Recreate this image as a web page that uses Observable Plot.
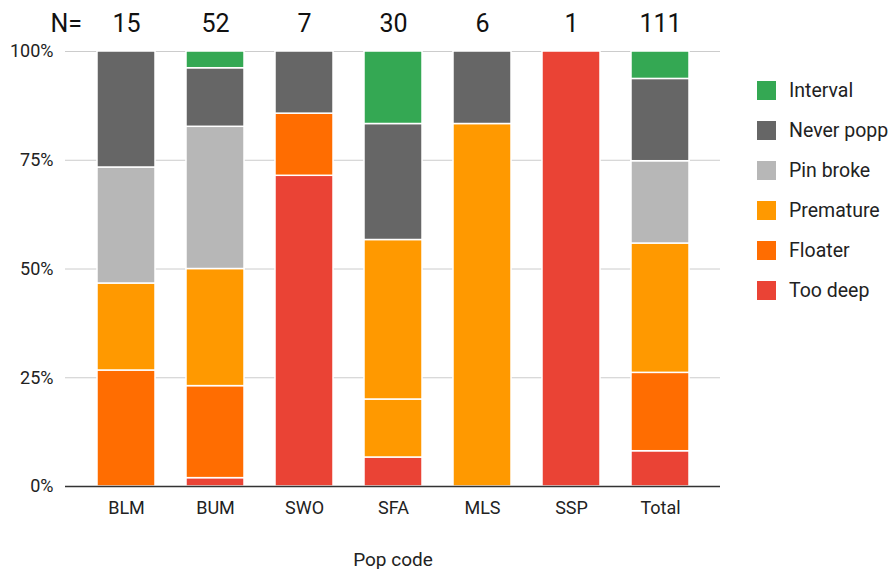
<!DOCTYPE html>
<html>
<head>
<meta charset="utf-8">
<script src="https://cdn.jsdelivr.net/npm/d3@7"></script>
<script src="https://cdn.jsdelivr.net/npm/@observablehq/plot@0.6"></script>
<style>
  html, body { margin: 0; padding: 0; background: #fff; overflow: hidden; }
  #chart { position: relative; width: 888px; height: 569px; font-family: Roboto, "Noto Sans", sans-serif; }
  #legend { position: absolute; left: 757px; top: 81px; }
  .item { position: absolute; left: 0; height: 19px; display: flex; align-items: center; white-space: nowrap; }
  .sw { width: 19px; height: 19px; margin-right: 13px; flex: none; }
  .lab { font-size: 19.5px; color: #222; line-height: 19px; }
</style>
</head>
<body>
<div id="chart"><div id="legend"></div></div>
<script>
// Pop-up outcome counts per pop code
const categories = ["BLM", "BUM", "SWO", "SFA", "MLS", "SSP", "Total"];
const tooDeep        = [0, 1, 5, 2, 0, 1, 9];
const floater        = [4, 11, 1, 0, 0, 0, 20];
const prematureFirst = [0, 0, 0, 4, 0, 0, 0];   // SFA premature block drawn below the main one
const premature      = [3, 14, 0, 11, 5, 0, 33];
const pinBroke       = [4, 17, 0, 0, 0, 0, 21];
const neverPopped    = [4, 7, 1, 8, 1, 0, 21];
const interval       = [0, 2, 0, 5, 0, 0, 7];

// Stacking order, bottom to top
const stackSeries = [
  ["Too deep", tooDeep],
  ["Floater", floater],
  ["Premature", prematureFirst],
  ["Premature", premature],
  ["Pin broke", pinBroke],
  ["Never popped", neverPopped],
  ["Interval", interval]
];

// Legend order, top to bottom
const legendNames  = ["Interval", "Never popped", "Pin broke", "Premature", "Floater", "Too deep"];
const legendColors = ["#34a853", "#666666", "#b7b7b7", "#ff9900", "#ff6d01", "#ea4335"];

const yTicks = [0, 0.25, 0.5, 0.75, 1];

const rows = [];
stackSeries.forEach(([name, values]) => {
  values.forEach((v, i) => {
    if (v > 0) rows.push({cat: categories[i], series: name, count: v});
  });
});

const totals = categories.map((c, i) =>
  ({cat: c, n: stackSeries.reduce((s, [, vals]) => s + vals[i], 0)}));

const chart = Plot.plot({
  width: 888,
  height: 569,
  marginTop: 51,
  marginBottom: 83,
  marginLeft: 65,
  marginRight: 168,
  style: {fontFamily: "Roboto, 'Noto Sans', sans-serif", color: "#222", background: "white", overflow: "visible"},
  x: {domain: categories, padding: 0.35},
  y: {domain: [0, 1]},
  color: {domain: legendNames, range: legendColors},
  marks: [
    Plot.gridY(yTicks, {stroke: "#cccccc", strokeOpacity: 1, strokeWidth: 1}),
    Plot.axisY(yTicks, {tickSize: 0, tickPadding: 12, fontSize: 18, label: null,
      tickFormat: d => `${Math.round(d * 100)}%`}),
    Plot.axisX({tickSize: 0, tickPadding: 15, fontSize: 18, label: null}),
    Plot.barY(rows, {
      x: "cat", y: "count", fill: "series",
      offset: "normalize", order: null,
      stroke: "white", strokeWidth: 1.5
    }),
    Plot.ruleY([0], {stroke: "#333333", strokeWidth: 1.5}),
    Plot.text(totals, {x: "cat", text: d => String(d.n), frameAnchor: "top",
      dy: -28, fontSize: 25, lineAnchor: "middle", fill: "#111"}),
    Plot.text(["N="], {frameAnchor: "top-left", dx: -15, dy: -28, fontSize: 25,
      textAnchor: "start", lineAnchor: "middle", fill: "#111"}),
    Plot.text(["Pop code"], {frameAnchor: "bottom", dy: 73, fontSize: 19,
      lineAnchor: "middle", fill: "#222"})
  ]
});

document.getElementById("chart").prepend(chart);

// Legend to the right of the plot
const legend = document.getElementById("legend");
legendNames.forEach((name, i) => {
  const item = document.createElement("div");
  item.className = "item";
  item.style.top = `${i * 40}px`;
  const sw = document.createElement("div");
  sw.className = "sw";
  sw.style.background = legendColors[i];
  const lab = document.createElement("span");
  lab.className = "lab";
  lab.textContent = name;
  item.append(sw, lab);
  legend.append(item);
});
</script>
</body>
</html>
